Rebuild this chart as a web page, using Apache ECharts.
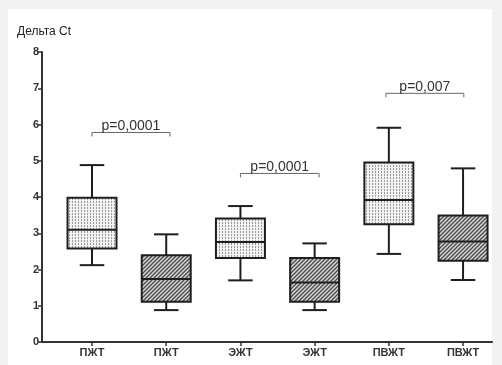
<!DOCTYPE html>
<html>
<head>
<meta charset="utf-8">
<script src="https://cdn.jsdelivr.net/npm/echarts@6/dist/echarts.min.js"></script>
<style>
    body { margin: 0; background: #f2f2f2; }
    .paper { position: absolute; left: 8px; top: 9px; width: 484px; height: 356px; background: #fff; }
    #chart { position: absolute; left: 0; top: 0; width: 502px; height: 365px; }
</style>
</head>
<body>
<div class="paper"></div>
<div id="chart"></div>
<script>
    // группы
    let categories = ['ПЖТ', 'ПЖТ', 'ЭЖТ', 'ЭЖТ', 'ПВЖТ', 'ПВЖТ'];
    // min, q1, median, q3, max
    let boxMin = [2.12, 0.88, 1.70, 0.88, 2.43, 1.71];
    let boxQ1 = [2.58, 1.11, 2.32, 1.11, 3.25, 2.24];
    let boxMedian = [3.10, 1.74, 2.76, 1.64, 3.92, 2.77];
    let boxQ3 = [3.98, 2.39, 3.41, 2.32, 4.95, 3.49];
    let boxMax = [4.88, 2.97, 3.75, 2.72, 5.91, 4.79];
    let boxFill = ['dots', 'hatch', 'dots', 'hatch', 'dots', 'hatch'];
    // p-значения
    let pLabels = ['p=0,0001', 'p=0,0001', 'p=0,007'];
    let pFrom = [0, 2, 3.96];
    let pTo = [1.05, 3.06, 5.01];
    let pLevel = [5.78, 4.65, 6.86];
    let yTicks = [0, 1, 2, 3, 4, 5, 6, 7, 8];

    function makePattern(kind) {
        let c = document.createElement('canvas');
        let ctx = c.getContext('2d');
        if (kind === 'dots') {
            c.width = 3; c.height = 3;
            ctx.fillStyle = '#f2f2f2';
            ctx.fillRect(0, 0, 3, 3);
            ctx.fillStyle = '#999';
            ctx.fillRect(0, 0, 1, 2);
        } else {
            c.width = 4; c.height = 4;
            ctx.fillStyle = '#d6d6d6';
            ctx.fillRect(0, 0, 4, 4);
            ctx.strokeStyle = '#4a4a4a';
            ctx.lineWidth = 1.3;
            ctx.beginPath();
            ctx.moveTo(0, 4); ctx.lineTo(4, 0);
            ctx.moveTo(-1, 1); ctx.lineTo(1, -1);
            ctx.moveTo(3, 5); ctx.lineTo(5, 3);
            ctx.stroke();
        }
        return {image: c, repeat: 'repeat'};
    }
    let patterns = {dots: makePattern('dots'), hatch: makePattern('hatch')};

    let boxData = categories.map((name, i) => {
        return [i, boxMin[i], boxQ1[i], boxMedian[i], boxQ3[i], boxMax[i]];
    });
    let bracketData = pLabels.map((t, i) => [pFrom[i], pTo[i], pLevel[i], t]);

    let myChart = echarts.init(document.getElementById('chart'));

    let option = {
        backgroundColor: 'transparent',
        animation: false,
        title: {
            text: 'Дельта Ct',
            left: 12,
            top: 21,
            textStyle: {fontFamily: 'Liberation Sans', fontSize: 12, fontWeight: 'normal', color: '#222'}
        },
        grid: {left: 42, right: 10, top: 52, bottom: 23},
        xAxis: {
            type: 'value',
            min: -0.674,
            max: 5.39,
            splitLine: {show: false},
            axisLine: {onZero: false, lineStyle: {color: '#333', width: 2}},
            axisTick: {customValues: [0, 1, 2, 3, 4, 5], length: 4, lineStyle: {color: '#333', width: 1.5}},
            axisLabel: {
                customValues: [0, 1, 2, 3, 4, 5],
                formatter: (v) => categories[Math.round(v)],
                margin: 5,
                fontFamily: 'Liberation Sans', fontSize: 11, fontWeight: 'bold', color: '#333'
            }
        },
        yAxis: {
            type: 'value',
            min: 0,
            max: 8,
            interval: 1,
            splitLine: {show: false},
            axisLine: {show: true, onZero: false, lineStyle: {color: '#333', width: 2}},
            axisTick: {show: true, length: 4, lineStyle: {color: '#333', width: 1.5}},
            axisLabel: {
                margin: 3,
                formatter: (v) => yTicks.indexOf(v) >= 0 ? String(v) : '',
                fontFamily: 'Liberation Sans', fontSize: 11, fontWeight: 'bold', color: '#333'
            }
        },
        series: [
            {
                type: 'custom',
                data: boxData,
                encode: {x: 0, y: [1, 2, 3, 4, 5]},
                renderItem: function (params, api) {
                    let x = api.value(0);
                    let step = api.size([1, 0])[0];
                    let half = step * 0.33;
                    let cap = step * 0.165;
                    let pMin = api.coord([x, api.value(1)]);
                    let pQ1 = api.coord([x, api.value(2)]);
                    let pMed = api.coord([x, api.value(3)]);
                    let pQ3 = api.coord([x, api.value(4)]);
                    let pMax = api.coord([x, api.value(5)]);
                    let cx = pMin[0];
                    let line = {stroke: '#1e1e1e', lineWidth: 2};
                    return {
                        type: 'group',
                        children: [
                            {type: 'line', shape: {x1: cx, y1: pQ3[1], x2: cx, y2: pMax[1]}, style: line},
                            {type: 'line', shape: {x1: cx, y1: pQ1[1], x2: cx, y2: pMin[1]}, style: line},
                            {type: 'line', shape: {x1: cx - cap, y1: pMax[1], x2: cx + cap, y2: pMax[1]}, style: line},
                            {type: 'line', shape: {x1: cx - cap, y1: pMin[1], x2: cx + cap, y2: pMin[1]}, style: line},
                            {
                                type: 'rect',
                                shape: {x: cx - half, y: pQ3[1], width: half * 2, height: pQ1[1] - pQ3[1]},
                                style: {fill: patterns[boxFill[params.dataIndex]], stroke: '#1e1e1e', lineWidth: 2}
                            },
                            {type: 'line', shape: {x1: cx - half, y1: pMed[1], x2: cx + half, y2: pMed[1]}, style: line}
                        ]
                    };
                }
            },
            {
                type: 'custom',
                data: bracketData,
                encode: {x: [0, 1], y: 2},
                renderItem: function (params, api) {
                    let a = api.coord([api.value(0), api.value(2)]);
                    let b = api.coord([api.value(1), api.value(2)]);
                    return {
                        type: 'group',
                        children: [
                            {
                                type: 'polyline',
                                shape: {points: [[a[0], a[1] + 4], [a[0], a[1]], [b[0], b[1]], [b[0], b[1] + 4]]},
                                style: {stroke: '#666', lineWidth: 1, fill: null}
                            },
                            {
                                type: 'text',
                                style: {
                                    x: (a[0] + b[0]) / 2, y: a[1] + 1,
                                    text: api.value(3),
                                    textAlign: 'center', textVerticalAlign: 'bottom',
                                    fontFamily: 'Liberation Sans', fontSize: 14, fill: '#333'
                                }
                            }
                        ]
                    };
                }
            }
        ]
    };

    myChart.setOption(option);
</script>
</body>
</html>
